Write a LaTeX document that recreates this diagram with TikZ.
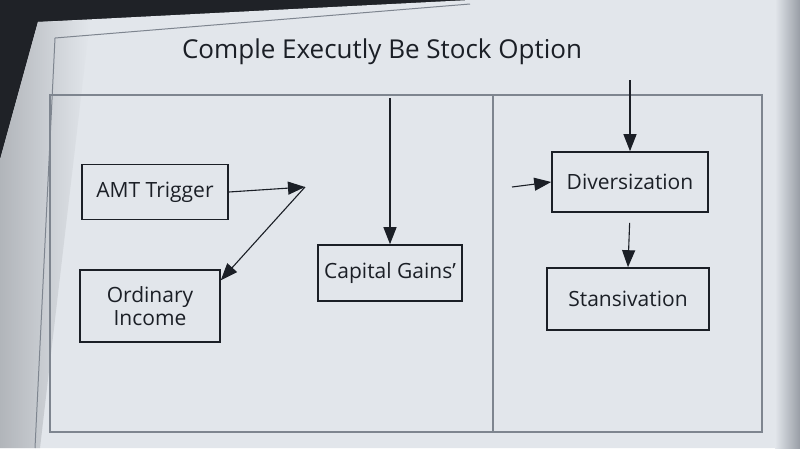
\documentclass[tikz,border=0pt]{standalone}
\usepackage{fontspec}
\setmainfont{Open Sans}
\usetikzlibrary{arrows.meta}

\definecolor{pagebg}{HTML}{E2E6EB}
\definecolor{screen}{HTML}{1F2227}
\definecolor{ink}{HTML}{1B1F26}
\definecolor{rule}{HTML}{7E858F}

\tikzset{
	stage/.style={draw=ink, line width=1.6pt, fill=pagebg, inner sep=0pt, align=center,
		font=\fontsize{21}{23}\selectfont, text=ink},
	flow/.style={draw=ink, line width=1.1pt, -{Triangle[length=17pt,width=13pt]}}
}

\begin{document}
\begin{tikzpicture}[x=1pt, y=-1pt]
		\useasboundingbox (0,0) rectangle (800,448);
		% screen and page
		\fill[screen] (0,0) rectangle (800,448);
		\fill[pagebg] (38,22) -- (470,0) -- (800,0) -- (800,448) -- (0,448) -- (0,160) -- cycle;
		\shade[left color=pagebg!75!screen, right color=pagebg] (0,160) -- (38,22) -- (90,20) -- (40,448) -- (0,448) -- cycle;
		\shade[left color=pagebg, right color=rule!80] (775,0) rectangle (800,448);
		\draw[rule, line width=1pt] (55,38) -- (470,4);
		\draw[rule, line width=1pt] (55,38) -- (35,448);
		% panel frame
		\draw[rule, line width=1.3pt] (50,95) -- (762,95) -- (762,432) -- (50,432) -- cycle;
		\draw[rule, line width=1.3pt] (493,95) -- (493,432);
		\node[text=ink, font=\fontsize{26}{28}\selectfont] (title) at (382,52) {Comple Executly Be Stock Option};
		% boxes
		\node[stage, minimum width=146pt, minimum height=55pt] (amt) at (155,192) {AMT Trigger};
		\node[stage, minimum width=140pt, minimum height=72pt] (income) at (150,306) {Ordinary\\Income};
		\node[stage, minimum width=144pt, minimum height=56pt] (gains) at (390,273) {Capital Gains'};
		\node[stage, minimum width=156pt, minimum height=60pt] (divers) at (630,182) {Diversization};
		\node[stage, minimum width=162pt, minimum height=62pt] (stans) at (628,299) {Stansivation};
		% loose ends
		\coordinate (junc) at (305,187);
		\coordinate (gtop) at (390,98);
		\coordinate (dtop) at (630,80);
		\coordinate (dleft) at (512,187);
		% arrows
		\draw[flow] (amt.east) -- (junc);
		\draw[flow] (junc) -- (income.20);
		\draw[flow] (gtop) -- (gains.north);
		\draw[flow] (dtop) -- (divers.north);
		\draw[flow] (dleft) -- (divers.west);
		\draw[flow, shorten <=10pt] (divers.south) -- (stans.north);
\end{tikzpicture}
\end{document}
